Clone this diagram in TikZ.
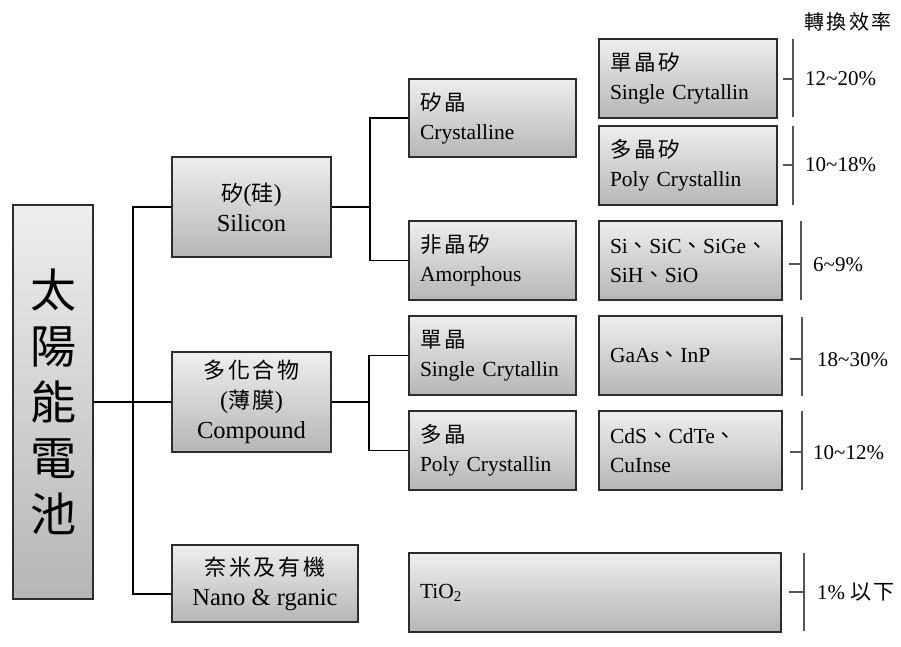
\documentclass[tikz,border=0pt]{standalone}
\usepackage{fontspec}
\setmainfont{Liberation Serif}
\newfontfamily\cjk[LetterSpace=12]{Noto Sans CJK TC}
\usetikzlibrary{calc,shadows}

\definecolor{boxtop}{RGB}{238,238,238}
\definecolor{boxbot}{RGB}{182,182,182}
\definecolor{boxline}{RGB}{45,45,45}
\definecolor{brkcol}{RGB}{85,85,85}

\newcommand{\dun}{{\cjk 、}}
\newcommand{\zh}[1]{{\cjk\fontsize{22}{29}\selectfont #1}}

\tikzset{
  box/.style={draw=boxline, line width=1.1pt, top color=boxtop, bottom color=boxbot,
    drop shadow={shadow xshift=1.2pt, shadow yshift=-1.2pt, opacity=0.25, fill=black}},
  cbox/.style={box, align=center, inner sep=0pt, font=\fontsize{24.5}{30}\selectfont},
  lbox/.style={box, align=left, inner xsep=11pt, inner ysep=0pt, text width=#1,
    font=\fontsize{21.5}{29}\selectfont},
  conn/.style={draw=black, line width=1.2pt},
  brk/.style={draw=brkcol, line width=1.4pt},
  pct/.style={anchor=west, inner sep=0pt, font=\fontsize{21}{25}\selectfont},
}

\begin{document}
\begin{tikzpicture}[x=1pt, y=-1pt]
\useasboundingbox (0,0) rectangle (901,646);

% root
\node[box, minimum width=80pt, minimum height=394pt, inner sep=0pt, align=center,
      font=\cjk\fontsize{46}{56}\selectfont] (main) at (53,402) {太\\陽\\能\\電\\池};

% first level
\node[cbox, minimum width=159pt, minimum height=100pt] (sil) at (251.5,207)
  {\zh{矽}(\zh{硅})\\Silicon};
\node[cbox, minimum width=159pt, minimum height=100pt] (comp) at (251.5,402)
  {\zh{多化合物}\\(\zh{薄膜})\\Compound};
\node[cbox, minimum width=186pt, minimum height=77pt] (nano) at (265,583.5)
  {\zh{奈米及有機}\\Nano \& rganic};

% second level
\node[lbox=145pt, minimum height=78pt] (cry) at (492.5,118)
  {{\cjk 矽晶}\\Crystalline};
\node[lbox=145pt, minimum height=79pt] (amo) at (492.5,260.5)
  {{\cjk 非晶矽}\\Amorphous};
\node[lbox=145pt, minimum height=79pt] (sc) at (492.5,355.5)
  {{\cjk 單晶}\\\mbox{Single\hspace{0.35em}Crytallin}};
\node[lbox=145pt, minimum height=79pt] (pc) at (492.5,450.5)
  {{\cjk 多晶}\\\mbox{Poly Crystallin}};

% materials
\node[lbox=156pt, minimum height=79pt] (r1) at (688,78.5)
  {{\cjk 單晶矽}\\\mbox{Single\hspace{0.35em}Crytallin}};
\node[lbox=156pt, minimum height=79pt] (r2) at (688,165.5)
  {{\cjk 多晶矽}\\\mbox{Poly Crystallin}};
\node[lbox=161pt, minimum height=79pt] (r3) at (690.5,260.5)
  {Si\dun SiC\dun SiGe\dun\\SiH\dun SiO};
\node[lbox=161pt, minimum height=79pt] (r4) at (690.5,355.5)
  {GaAs\dun InP};
\node[lbox=161pt, minimum height=79pt] (r5) at (690.5,450.5)
  {CdS\dun CdTe\dun\\CuInse};
\node[lbox=350pt, minimum height=79pt] (tio) at (595,592.5)
  {TiO\textsubscript{2}};

% tree connectors
\coordinate (ja) at (133,207);
\coordinate (jb) at (133,594);
\draw[conn] (main.east) -- (main.east -| ja);
\draw[conn] (sil.west) -- (ja) -- (jb) -- (jb -| nano.west);
\draw[conn] (comp.west) -- (comp.west -| ja);

\coordinate (js) at (370,207);
\draw[conn] (sil.east) -- (js);
\draw[conn] (cry.west) -- (cry.west -| js) -- (amo.west -| js) -- (amo.west);

\coordinate (jc) at (369,402);
\draw[conn] (comp.east) -- (jc);
\draw[conn] (sc.west) -- (sc.west -| jc) -- (pc.west -| jc) -- (pc.west);

% efficiency brackets
\draw[brk] (793,39) -- (793,117) (783,79) -- (793,79);
\draw[brk] (793,126) -- (793,205) (783,165) -- (793,165);
\draw[brk] (801,221) -- (801,300) (789,264) -- (801,264);
\draw[brk] (802,317) -- (802,396) (790,359) -- (802,359);
\draw[brk] (802,411) -- (802,490) (790,452) -- (802,452);
\draw[brk] (804,553) -- (804,631) (789,592) -- (804,592);

\node[anchor=center, inner sep=0pt, font=\cjk\fontsize{20}{24}\selectfont] (head) at (848,22) {轉換效率};
\node[pct] (p1) at (805,79) {12\textasciitilde 20\%};
\node[pct] (p2) at (805,165) {10\textasciitilde 18\%};
\node[pct] (p3) at (813,265) {6\textasciitilde 9\%};
\node[pct] (p4) at (817,360) {18\textasciitilde 30\%};
\node[pct] (p5) at (813,453) {10\textasciitilde 12\%};
\node[pct] (p6) at (817,592) {1\% {\cjk 以下}};
\end{tikzpicture}
\end{document}
